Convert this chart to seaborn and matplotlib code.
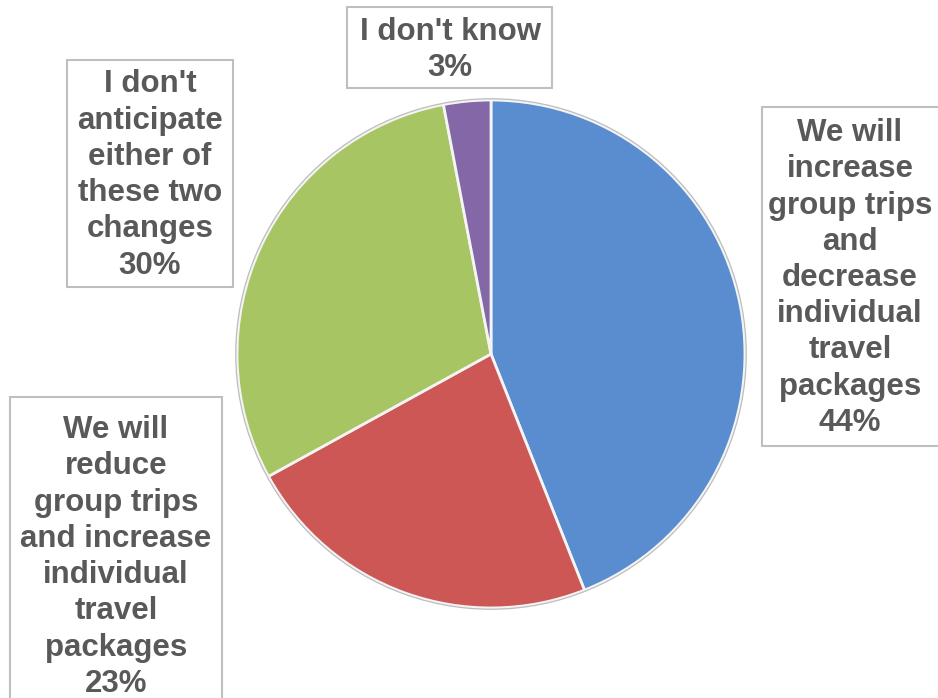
import matplotlib
matplotlib.use("Agg")
import matplotlib.pyplot as plt
from matplotlib.patches import Rectangle, Circle
import seaborn as sns

# Survey answers, clockwise from 12 o'clock
categories = [
    "We will\nincrease\ngroup trips\nand\ndecrease\nindividual\ntravel\npackages",
    "We will\nreduce\ngroup trips\nand increase\nindividual\ntravel\npackages",
    "I don't\nanticipate\neither of\nthese two\nchanges",
    "I don't know",
]
shares = [44, 23, 30, 3]
slice_colors = ["#5A8CD0", "#CD5754", "#A7C563", "#8467A6"]

sns.set_theme(style="white")
plt.rcParams["font.family"] = ["Liberation Sans", "DejaVu Sans"]

W, H = 938, 698
fig = plt.figure(figsize=(W / 100, H / 100), dpi=100)
fig.patch.set_facecolor("white")

# pie centre and radius in pixels (from the top-left corner)
cx, cy, r = 491, 354, 256
ax = fig.add_axes([(cx - r) / W, (H - cy - r) / H, 2 * r / W, 2 * r / H])
palette = sns.color_palette(slice_colors)
wedges, _ = ax.pie(
    shares,
    colors=palette,
    startangle=90,
    counterclock=False,
    radius=0.995,
    wedgeprops=dict(edgecolor="#F4F4F4", linewidth=2.0),
)
ax.add_patch(Circle((0, 0), 1.0, fill=False, edgecolor="#BDBDBD", linewidth=0.9))
ax.set_xlim(-1.003, 1.003)
ax.set_ylim(-1.003, 1.003)
ax.set_aspect("equal")
ax.axis("off")

# label boxes: (left, top, right, bottom) in pixels, text centre (x, y)
boxes = [
    ((762, 107, 945, 446), (850, 278)),
    ((10, 397, 222, 715), (116, 557)),
    ((67, 60, 233, 287), (150, 175)),
    ((347, 7, 552, 88), (450, 50)),
]

text_color = "#595959"
for cat, val, (box, (tx, ty)) in zip(categories, shares, boxes):
    x0, y0, x1, y1 = box
    fig.patches.append(
        Rectangle(
            (x0 / W, 1 - y1 / H), (x1 - x0) / W, (y1 - y0) / H,
            transform=fig.transFigure, facecolor="white",
            edgecolor="#BFBFBF", linewidth=1.5, zorder=3,
        )
    )
    fig.text(
        tx / W, 1 - ty / H, f"{cat}\n{val}%",
        ha="center", va="center", ma="center",
        fontsize=22.5, fontweight="bold", color=text_color,
        linespacing=1.27, zorder=4,
    )

fig.savefig("out.png", dpi=100, facecolor="white")
